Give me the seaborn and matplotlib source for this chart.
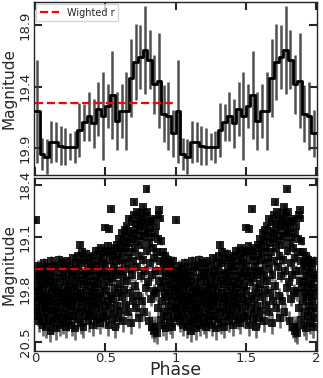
import numpy as np
import pandas as pd
import matplotlib
matplotlib.use('Agg')
import matplotlib.pyplot as plt
import seaborn as sns

sns.set_style('ticks')
plt.rcParams['font.family'] = ['DejaVu Sans']

# ---- binned light curve (30 phase bins over one cycle) ----
bin_mag = [19.60, 19.95, 19.97, 19.85, 19.85, 19.88, 19.89, 19.89, 19.89, 19.75,
           19.69, 19.64, 19.70, 19.58, 19.64, 19.56, 19.47, 19.68, 19.60, 19.60,
           19.33, 19.20, 19.16, 19.10, 19.18, 19.38, 19.35, 19.62, 19.64, 19.78]
bin_err = [0.42, 0.13, 0.14, 0.17, 0.16, 0.16, 0.15, 0.11, 0.13, 0.22,
           0.15, 0.20, 0.20, 0.22, 0.36, 0.18, 0.36, 0.24, 0.22, 0.32,
           0.32, 0.31, 0.26, 0.36, 0.24, 0.24, 0.39, 0.23, 0.28, 0.19]

# ---- individual observations (one cycle) ----
phase_pts = [
    0.003, 0.005, 0.008, 0.010, 0.012, 0.015, 0.018, 0.020, 0.023, 0.026, 0.029, 0.032, 0.035, 0.038, 0.041, 0.044, 0.047,
    0.051, 0.054, 0.056, 0.059, 0.062, 0.065, 0.068, 0.071, 0.074, 0.077, 0.080, 0.083, 0.086, 0.089, 0.092, 0.095, 0.098,
    0.101, 0.104, 0.107, 0.110, 0.113, 0.116, 0.119, 0.122, 0.125, 0.128, 0.131, 0.134, 0.137, 0.140, 0.143, 0.146, 0.149,
    0.152, 0.155, 0.158, 0.161, 0.164, 0.167, 0.170, 0.173, 0.176, 0.179, 0.182, 0.185, 0.188, 0.191, 0.194, 0.197,
    0.200, 0.203, 0.206, 0.209, 0.212, 0.215, 0.218, 0.221, 0.224, 0.227, 0.230, 0.233, 0.236, 0.239, 0.242, 0.245, 0.248,
    0.251, 0.254, 0.257, 0.260, 0.263, 0.266, 0.269, 0.272, 0.275, 0.278, 0.281, 0.284, 0.287, 0.290, 0.293, 0.296,
    0.300, 0.303, 0.306, 0.309, 0.312, 0.315, 0.318, 0.321, 0.324, 0.327, 0.330, 0.333, 0.336, 0.339, 0.342, 0.345, 0.348,
    0.351, 0.354, 0.357, 0.360, 0.363, 0.366, 0.369, 0.372, 0.375, 0.378, 0.381, 0.384, 0.387, 0.390, 0.393, 0.396, 0.399,
    0.402, 0.405, 0.408, 0.411, 0.414, 0.417, 0.420, 0.423, 0.426, 0.429, 0.432, 0.435, 0.438, 0.441, 0.444, 0.447,
    0.450, 0.453, 0.456, 0.459, 0.462, 0.465, 0.468, 0.471, 0.474, 0.477, 0.480, 0.483, 0.486, 0.489, 0.492, 0.495, 0.498,
    0.500, 0.502, 0.505, 0.508, 0.511, 0.514, 0.517, 0.520, 0.523, 0.526, 0.529, 0.532, 0.535, 0.538, 0.541, 0.544, 0.547, 0.549,
    0.552, 0.555, 0.558, 0.561, 0.564, 0.567, 0.570, 0.573, 0.576, 0.579, 0.582, 0.585, 0.588, 0.591, 0.594, 0.597,
    0.600, 0.603, 0.606, 0.609, 0.612, 0.615, 0.618, 0.621, 0.624, 0.627, 0.630, 0.633, 0.636, 0.639, 0.642, 0.645, 0.648,
    0.651, 0.654, 0.657, 0.660, 0.663, 0.666, 0.669, 0.672, 0.675, 0.678, 0.681, 0.684, 0.687, 0.690, 0.693, 0.696, 0.699,
    0.701, 0.704, 0.707, 0.710, 0.713, 0.716, 0.719, 0.722, 0.725, 0.728, 0.731, 0.734, 0.737, 0.740, 0.743, 0.746, 0.749,
    0.752, 0.755, 0.758, 0.761, 0.764, 0.767, 0.770, 0.773, 0.776, 0.779, 0.782, 0.785, 0.788, 0.791, 0.794, 0.797, 0.799,
    0.802, 0.805, 0.808, 0.811, 0.814, 0.817, 0.820, 0.823, 0.826, 0.829, 0.832, 0.835, 0.838, 0.841, 0.844, 0.847, 0.849,
    0.852, 0.855, 0.858, 0.861, 0.864, 0.867, 0.870, 0.873, 0.876, 0.879, 0.882, 0.885, 0.888, 0.891, 0.894, 0.897, 0.899,
    0.902, 0.905, 0.908, 0.911, 0.914, 0.917, 0.920, 0.923, 0.926, 0.929, 0.932, 0.935, 0.938, 0.941, 0.944, 0.947,
    0.950, 0.953, 0.956, 0.959, 0.962, 0.965, 0.968, 0.971, 0.974, 0.977, 0.980, 0.983, 0.986, 0.989, 0.992, 0.995, 0.998,
]
mag_pts = [
    19.82, 18.87, 19.65, 20.05, 19.55, 19.95, 20.15, 19.75, 19.48, 19.90, 20.22, 19.62, 19.85, 20.10, 19.70, 19.52, 20.00,
    19.80, 20.28, 19.60, 19.95, 20.18, 19.45, 19.72, 20.05, 19.88, 19.58, 20.30, 19.68, 20.12, 19.90, 19.50, 20.02, 19.78,
    20.22, 19.62, 19.95, 20.35, 19.70, 19.42, 20.08, 19.85, 20.25, 19.55, 19.92, 20.15, 19.75, 19.48, 20.05, 19.82, 20.32,
    19.65, 19.98, 20.20, 19.50, 19.80, 20.10, 19.40, 19.90, 20.28, 19.70, 20.02, 19.58, 19.85, 20.18, 19.45, 19.95,
    20.25, 19.62, 19.88, 20.12, 19.52, 19.78, 20.30, 19.68, 19.98, 19.42, 20.05, 19.82, 20.22, 19.58, 19.92, 20.15, 19.72,
    19.48, 20.02, 19.85, 20.28, 19.62, 19.95, 19.38, 20.15, 19.75, 19.55, 20.08, 19.88, 20.32, 19.65, 19.45, 19.98,
    19.78, 20.20, 19.55, 19.35, 19.90, 20.10, 19.20, 19.68, 20.25, 19.45, 19.85, 19.30, 20.05, 19.60, 19.92, 20.30, 19.72,
    19.40, 19.95, 20.15, 19.58, 19.82, 19.32, 20.08, 19.70, 19.50, 19.98, 20.22, 19.62, 19.38, 19.88, 20.12, 19.75, 19.45,
    20.02, 19.55, 19.85, 20.28, 19.35, 19.68, 19.95, 20.15, 19.48, 19.78, 19.28, 20.05, 19.62, 19.90, 20.20, 19.42,
    19.72, 20.00, 19.32, 19.55, 20.25, 19.85, 19.25, 19.65, 20.10, 19.45, 19.92, 19.38, 20.18, 19.75, 19.58, 19.28, 20.02,
    18.97, 19.48, 19.82, 20.15, 19.30, 19.62, 19.95, 19.22, 20.28, 18.99, 19.70, 19.40, 20.05, 19.55, 19.88, 18.72, 19.28, 20.20,
    19.65, 19.35, 19.92, 20.12, 19.50, 19.25, 19.78, 20.30, 19.42, 19.60, 20.02, 19.20, 19.85, 19.32, 20.18, 19.55,
    19.12, 19.72, 19.40, 20.08, 19.22, 19.55, 19.90, 19.05, 19.30, 20.22, 19.62, 19.15, 19.80, 19.00, 19.45, 20.00, 19.25,
    18.95, 19.68, 19.10, 19.38, 20.10, 18.85, 19.52, 19.18, 19.85, 19.02, 19.30, 20.25, 18.90, 19.60, 19.12, 19.95, 19.42,
    18.80, 19.05, 18.63, 19.75, 19.25, 18.92, 20.05, 19.15, 18.76, 19.50, 19.00, 19.88, 18.85, 19.35, 20.18, 19.08, 18.95,
    19.62, 18.88, 19.20, 19.95, 18.78, 19.40, 18.70, 19.10, 20.10, 18.92, 19.55, 19.02, 18.82, 19.78, 18.46, 19.28, 18.76,
    19.05, 19.70, 18.90, 20.22, 19.18, 18.98, 19.45, 19.92, 19.10, 18.88, 19.60, 20.30, 19.25, 18.85, 19.82, 19.38, 20.35,
    19.05, 20.30, 19.55, 18.95, 19.85, 20.38, 19.30, 19.12, 20.05, 18.80, 19.68, 18.74, 18.85, 19.42, 20.20, 19.15, 19.78,
    19.55, 19.95, 19.30, 20.28, 19.70, 19.45, 20.10, 19.85, 19.35, 20.32, 19.62, 19.90, 19.48, 20.15, 19.75, 19.40,
    20.02, 19.58, 19.85, 20.25, 19.45, 19.72, 20.08, 19.52, 19.95, 20.30, 19.65, 19.42, 19.88, 20.18, 19.60, 19.78, 20.05,
]
err_pts = [
    .10, .04, .08, .11, .07, .10, .13, .09, .07, .10, .14, .08, .10, .12, .08, .07, .11,
    .09, .14, .08, .10, .13, .07, .09, .11, .10, .08, .15, .08, .12, .10, .07, .11, .09,
    .13, .08, .10, .15, .09, .07, .12, .10, .14, .08, .10, .13, .09, .07, .11, .10, .15,
    .08, .11, .13, .07, .09, .12, .06, .10, .14, .09, .11, .08, .10, .13, .07, .10,
    .14, .08, .10, .12, .07, .09, .15, .08, .11, .06, .11, .10, .13, .08, .10, .13, .09,
    .07, .11, .10, .14, .08, .10, .06, .13, .09, .08, .12, .10, .15, .08, .07, .11,
    .09, .13, .08, .06, .10, .12, .05, .08, .14, .07, .10, .06, .11, .08, .10, .15, .09,
    .07, .10, .13, .08, .10, .06, .12, .09, .07, .11, .14, .08, .06, .10, .12, .09, .07,
    .11, .08, .10, .14, .06, .08, .10, .13, .07, .09, .06, .11, .08, .10, .13, .07,
    .09, .11, .06, .08, .14, .10, .05, .08, .12, .07, .10, .06, .13, .09, .08, .06, .11,
    .04, .07, .10, .13, .06, .08, .10, .05, .14, .04, .09, .07, .11, .08, .10, .04, .06, .13,
    .08, .06, .10, .12, .07, .05, .09, .15, .07, .08, .11, .05, .10, .06, .13, .08,
    .05, .09, .07, .12, .05, .08, .10, .05, .06, .14, .08, .05, .09, .05, .07, .11, .06,
    .04, .08, .05, .06, .12, .04, .07, .05, .10, .05, .06, .14, .04, .08, .05, .10, .07,
    .04, .05, .04, .09, .06, .04, .11, .05, .04, .07, .05, .10, .04, .06, .13, .05, .04,
    .08, .04, .05, .10, .04, .07, .04, .05, .12, .04, .08, .05, .04, .09, .04, .06, .04,
    .05, .09, .04, .13, .05, .04, .07, .10, .05, .04, .08, .15, .06, .04, .10, .06, .15,
    .05, .15, .08, .04, .10, .15, .06, .05, .11, .04, .08, .04, .04, .07, .13, .05, .09,
    .08, .10, .06, .14, .09, .07, .12, .10, .06, .15, .08, .10, .07, .13, .09, .07,
    .11, .08, .10, .14, .07, .09, .12, .07, .10, .15, .08, .07, .10, .13, .08, .09, .11,
]

weighted_r = 19.53
xticks = [0, 0.5, 1, 1.5, 2]
xtick_labels = ['0', '0.5', '1', '1.5', '2']
top_yticks = [18.9, 19.4, 19.9]
bot_yticks = [18.4, 19.1, 19.8, 20.5]

# ---- two cycles ----
nb = len(bin_mag)
edges = np.linspace(0, 2, 2 * nb + 1)
centers = (edges[:-1] + edges[1:]) / 2
bmag2 = np.array(bin_mag * 2)
berr2 = np.array(bin_err * 2)
step_df = pd.DataFrame({'phase': np.concatenate([[0.0], centers, [2.0]]),
                        'mag': np.concatenate([[bmag2[0]], bmag2, [bmag2[-1]]])})

ph = np.array(phase_pts)
pts_df = pd.DataFrame({'phase': np.concatenate([ph, ph + 1]),
                       'mag': np.array(mag_pts * 2),
                       'err': np.array(err_pts * 2)})

fig = plt.figure(figsize=(3.23, 3.78), dpi=100)
W, H = 323.0, 378.0
ax1 = fig.add_axes([34 / W, 1 - 175 / H, 283 / W, 173 / H])
ax2 = fig.add_axes([34 / W, 1 - 351 / H, 283 / W, 173 / H])

# top panel
ax1.errorbar(centers, bmag2, yerr=berr2, fmt='none', ecolor='#3c3c3c',
             elinewidth=1.8, alpha=0.9, zorder=2)
sns.lineplot(data=step_df, x='phase', y='mag', ax=ax1, color='black', lw=2.0,
             drawstyle='steps-mid', estimator=None, sort=True, zorder=3)
ax1.plot([0, 1], [weighted_r, weighted_r], color='red', ls='--', lw=1.6,
         label='Wighted r', zorder=4)
ax1.legend(loc='upper left', fontsize=7, handlelength=2.0, borderaxespad=0.25,
           borderpad=0.35, frameon=True, fancybox=False, edgecolor='#cccccc')

# bottom panel
ax2.errorbar(pts_df['phase'], pts_df['mag'], yerr=pts_df['err'], fmt='none',
             ecolor='#2a2a2a', elinewidth=1.9, alpha=0.7, zorder=2)
sns.scatterplot(data=pts_df, x='phase', y='mag', ax=ax2, marker='s', s=32,
                color='black', alpha=0.85, edgecolor='none', linewidth=0, zorder=3)
ax2.plot([0, 1], [weighted_r, weighted_r], color='red', ls='--', lw=1.6,
         alpha=0.9, zorder=5)

for ax in (ax1, ax2):
    ax.set_xlim(-0.007, 2.007)
    ax.set_xticks(xticks)
    ax.tick_params(direction='in', length=5.5, width=1.5, top=True, right=True,
                   labelsize=9.5, pad=1.5)
    for s in ax.spines.values():
        s.set_linewidth(1.0)
        s.set_color('#222222')
    ax.set_ylabel('Magnitude', fontsize=11, labelpad=2)

ax1.set_ylim(20.12, 18.71)
ax1.set_yticks(top_yticks)
ax1.set_yticklabels([f'{v:.1f}' for v in top_yticks], rotation=90, va='center')
ax1.tick_params(labelbottom=False)
ax1.set_xlabel('')

ax2.set_ylim(20.62, 18.31)
ax2.set_yticks(bot_yticks)
ax2.set_yticklabels([f'{v:.1f}' for v in bot_yticks], rotation=90, va='center')
ax2.set_xticklabels(xtick_labels)
ax2.tick_params(axis='x', pad=0.5)
ax2.set_xlabel('Phase', fontsize=12.5, labelpad=-3)

fig.savefig('out.png', dpi=100)
